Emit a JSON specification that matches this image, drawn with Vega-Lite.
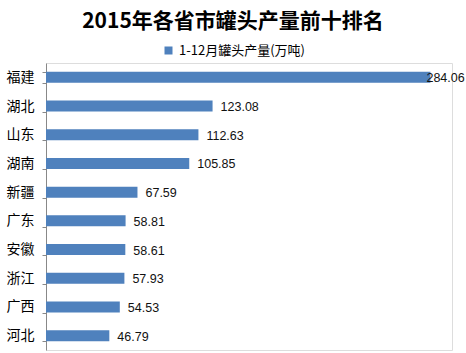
{
  "$schema": "https://vega.github.io/schema/vega-lite/v6.json",
  "width": 406,
  "height": 287,
  "autosize": "none",
  "padding": {"left": 46, "top": 63, "right": 14, "bottom": 3},
  "background": "white",
  "title": {
    "text": "2015年各省市罐头产量前十排名",
    "font": "Noto Sans CJK SC",
    "fontSize": 21,
    "fontWeight": "bold",
    "color": "#000000",
    "anchor": "middle",
    "dx": -16,
    "offset": 12
  },
  "data": {
    "values": [
      {"province": "福建", "value": 284.06},
      {"province": "湖北", "value": 123.08},
      {"province": "山东", "value": 112.63},
      {"province": "湖南", "value": 105.85},
      {"province": "新疆", "value": 67.59},
      {"province": "广东", "value": 58.81},
      {"province": "安徽", "value": 58.61},
      {"province": "浙江", "value": 57.93},
      {"province": "广西", "value": 54.53},
      {"province": "河北", "value": 46.79}
    ]
  },
  "encoding": {
    "y": {
      "field": "province",
      "type": "nominal",
      "sort": null,
      "title": null,
      "scale": {"paddingInner": 0.6, "paddingOuter": 0.3},
      "axis": {
        "tickBand": "extent",
        "tickSize": 4,
        "tickColor": "#888888",
        "domainColor": "#888888",
        "labelFont": "Noto Sans CJK SC",
        "labelFontSize": 14,
        "labelColor": "#000000",
        "labelPadding": 8
      }
    },
    "x": {
      "field": "value",
      "type": "quantitative",
      "scale": {"domain": [0, 300]},
      "axis": null
    }
  },
  "layer": [
    {
      "mark": {"type": "bar", "height": 11},
      "encoding": {
        "color": {
          "datum": "1-12月罐头产量(万吨)",
          "scale": {"range": ["#4f81bd"]},
          "legend": {
            "title": null,
            "orient": "none",
            "legendX": 116,
            "legendY": -19,
            "symbolType": "square",
            "symbolSize": 64,
            "symbolStrokeWidth": 0,
            "labelFont": "Noto Sans CJK SC",
            "labelFontSize": 13,
            "labelColor": "#000000",
            "labelOffset": 4
          }
        }
      }
    },
    {
      "transform": [{"filter": "datum.value < 250"}],
      "mark": {
        "type": "text",
        "align": "left",
        "baseline": "middle",
        "dx": 8,
        "dy": 1,
        "font": "Liberation Sans",
        "fontSize": 12.5,
        "color": "#111111"
      },
      "encoding": {
        "text": {"field": "value", "type": "quantitative", "format": ".2f"}
      }
    },
    {
      "transform": [{"filter": "datum.value >= 250"}],
      "mark": {
        "type": "text",
        "align": "left",
        "baseline": "middle",
        "dx": -4,
        "dy": 1,
        "font": "Liberation Sans",
        "fontSize": 12.5,
        "color": "#111111"
      },
      "encoding": {
        "text": {"field": "value", "type": "quantitative", "format": ".2f"}
      }
    }
  ]
}
